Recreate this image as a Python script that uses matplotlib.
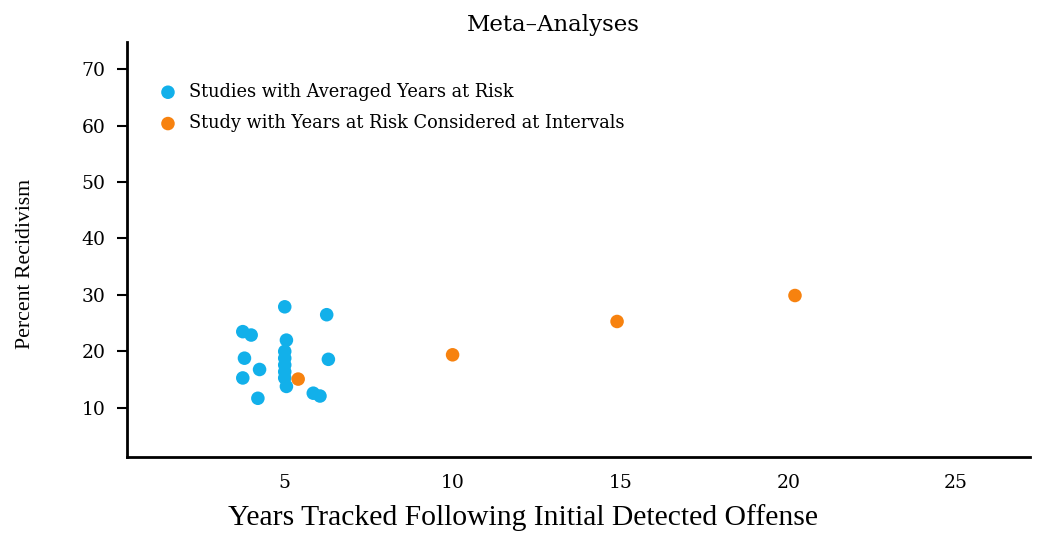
import numpy as np
import matplotlib.pyplot as plt

# averaged-years studies
avg_years = [5.0, 6.25, 3.75, 4.0, 5.05, 3.8, 5.0, 5.0, 5.0, 5.0, 5.0, 5.05,
             6.3, 4.25, 3.75, 5.85, 6.05, 4.2]
avg_recid = [27.9, 26.5, 23.5, 22.9, 22.0, 18.8, 20.0, 18.8, 17.6, 16.4, 15.3, 13.8,
             18.6, 16.8, 15.3, 12.6, 12.1, 11.7]

# single study tracked at intervals
int_years = [5.4, 10.0, 14.9, 20.2]
int_recid = [15.1, 19.4, 25.3, 29.9]

xticks = [5, 10, 15, 20, 25]
yticks = [10, 20, 30, 40, 50, 60, 70]

plt.rcParams['font.family'] = ['DejaVu Serif']

fig = plt.figure(figsize=(10.39, 5.35), dpi=100)
ax = fig.add_axes([0.1222, 0.1458, 0.8691, 0.7757])

ax.scatter(avg_years, avg_recid, s=95, color='#12b0ea', edgecolors='none',
           label='Studies with Averaged Years at Risk', zorder=3)
ax.scatter(int_years, int_recid, s=95, color='#f7820f', edgecolors='none',
           label='Study with Years at Risk Considered at Intervals', zorder=4)

ax.set_xlim(0.3, 27.2)
ax.set_ylim(1.3, 74.8)
ax.set_xticks(xticks)
ax.set_yticks(yticks)
ax.tick_params(axis='x', length=0, pad=12, labelsize=13.5)
ax.tick_params(axis='y', length=7.5, width=1.5, pad=8, labelsize=13.5)

for side in ['top', 'right']:
    ax.spines[side].set_visible(False)
for side in ['left', 'bottom']:
    ax.spines[side].set_linewidth(2)

ax.set_xlabel('Years Tracked Following Initial Detected Offense', fontsize=21.3,
              family='Liberation Serif')
ax.xaxis.set_label_coords(0.4385, -0.113)
ax.set_ylabel('Percent Recidivism', fontsize=15.7, family='Liberation Serif')
ax.yaxis.set_label_coords(-0.102, 0.465)
fig.text(0.533, 0.953, 'Meta–Analyses', ha='center', va='center', fontsize=16.5)

ax.legend(loc='upper left', bbox_to_anchor=(0.008, 0.94), frameon=False, fontsize=12.8,
          handletextpad=0.2, labelspacing=0.75, markerscale=1.0)

fig.savefig('out.png', dpi=100)
